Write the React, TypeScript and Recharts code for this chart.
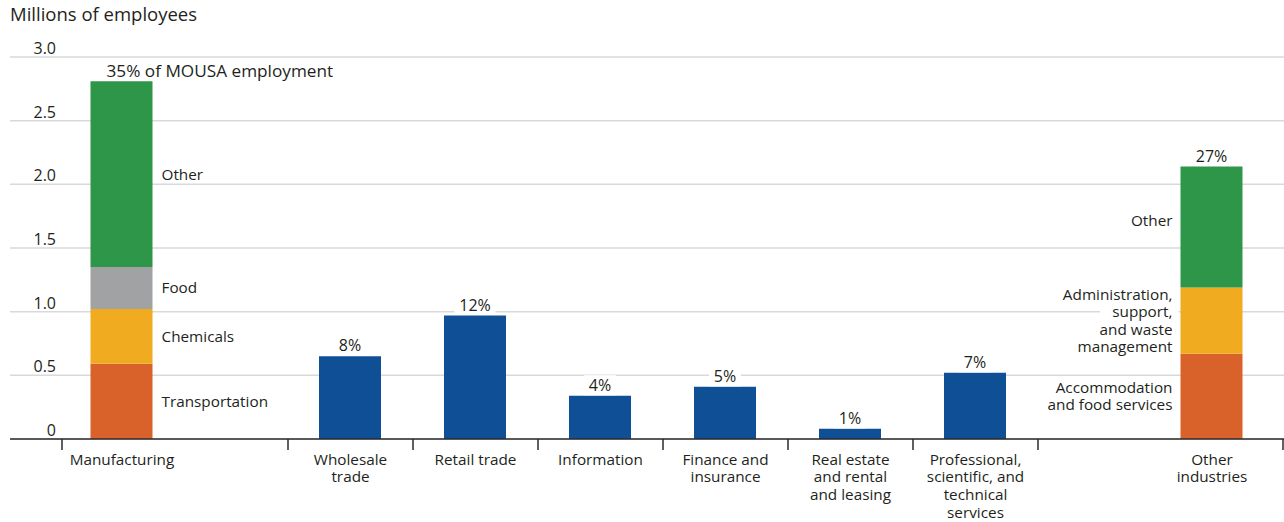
import React from "react";
import { BarChart, Bar, XAxis, YAxis, CartesianGrid, LabelList } from "recharts";

// ---------- data ----------
const categories = [
  "Manufacturing",
  "Wholesale trade",
  "Retail trade",
  "Information",
  "Finance and insurance",
  "Real estate and rental and leasing",
  "Professional, scientific, and technical services",
  "Other industries",
];

const tickLabelLines = [
  ["Manufacturing"],
  ["Wholesale", "trade"],
  ["Retail trade"],
  ["Information"],
  ["Finance and", "insurance"],
  ["Real estate", "and rental", "and leasing"],
  ["Professional,", "scientific, and", "technical", "services"],
  ["Other", "industries"],
];

const shareLabels = ["35% of MOUSA employment", "8%", "12%", "4%", "5%", "1%", "7%", "27%"];

// single (non-split) industries, millions of employees
const singleValues = [0, 0.65, 0.97, 0.34, 0.41, 0.08, 0.52, 0];

// split industries (Manufacturing, Other industries)
const seg1Values = [0.59, 0, 0, 0, 0, 0, 0, 0.67]; // Transportation / Accommodation and food services
const seg2Values = [0.43, 0, 0, 0, 0, 0, 0, 0.52]; // Chemicals / Administration...
const seg3Values = [0.33, 0, 0, 0, 0, 0, 0, 0]; // Food
const seg4Values = [1.46, 0, 0, 0, 0, 0, 0, 0.95]; // Other

const seg1Labels = ["Transportation", "", "", "", "", "", "", "Accommodation\nand food services"];
const seg2Labels = ["Chemicals", "", "", "", "", "", "", "Administration,\nsupport,\nand waste\nmanagement"];
const seg3Labels = ["Food", "", "", "", "", "", "", ""];
const seg4Labels = ["Other", "", "", "", "", "", "", "Other"];

const yTicks = [0, 0.5, 1, 1.5, 2, 2.5, 3];

// ---------- layout (axis units: one middle slot = 1) ----------
const X_DOMAIN: [number, number] = [0, 10.192];
const CENTER_POS = [0.896, 2.724, 3.724, 4.724, 5.724, 6.724, 7.724, 9.616];
const BOUNDARY_POS = [0.416, 2.224, 3.224, 4.224, 5.224, 6.224, 7.224, 8.224, 10.184];

const COLORS = {
  blue: "#0F4F96",
  red: "#D9622B",
  orange: "#F0AB21",
  gray: "#A0A2A3",
  green: "#2E9648",
  text: "#231F20",
  grid: "#D9D9D9",
  axis: "#2B2B2B",
};
const FONT = "'Open Sans', 'Noto Sans', sans-serif";
const FS = 15.3;

const isSplit = (i: number) => singleValues[i] === 0;

const data = categories.map((name, i) => ({
  name,
  pos: CENTER_POS[i],
  single: singleValues[i],
  seg1: seg1Values[i],
  seg2: seg2Values[i],
  seg3: seg3Values[i],
  seg4: seg4Values[i],
  blueShare: isSplit(i) ? "" : shareLabels[i],
  stackShare: isSplit(i) ? shareLabels[i] : "",
  seg1Label: seg1Labels[i],
  seg2Label: seg2Labels[i],
  seg3Label: seg3Labels[i],
  seg4Label: seg4Labels[i],
}));

const estW = (s: string, fs: number) => s.length * fs * 0.56;

const getBox = (props: any) => {
  const vb = props.viewBox && props.viewBox.width !== undefined ? props.viewBox : props;
  return {
    x: Number(vb.x),
    y: Number(vb.y),
    width: Number(vb.width),
    height: Number(vb.height),
  };
};

const ShareLabel = (props: any) => {
  const value = props.value;
  if (!value) return null;
  const { x, y, width } = getBox(props);
  const first = x < 300;
  const fs = first ? 17.2 : 16;
  const ty = y - 10.5;
  const tw = estW(String(value), fs);
  const tx = first ? x + 16 : x + width / 2;
  const rx = first ? tx - 6 : tx - tw / 2 - 7;
  return (
    <g>
      <rect x={rx} y={ty - 10} width={tw + 14} height={20} fill="#fff" />
      <text
        x={tx}
        y={ty}
        dy="0.35em"
        textAnchor={first ? "start" : "middle"}
        fontFamily={FONT}
        fontSize={fs}
        fill={COLORS.text}
      >
        {value}
      </text>
    </g>
  );
};

const SegmentLabel = (props: any) => {
  const value = props.value;
  if (!value) return null;
  const { x, y, width, height } = getBox(props);
  const lines = String(value).split("\n");
  const anchorEnd = x > 640;
  const tx = anchorEnd ? x - 8 : x + width + 9;
  const cy = y + height / 2 - (anchorEnd && lines.length === 1 ? 6 : 0);
  const lh = 17.5;
  const startY = cy - ((lines.length - 1) * lh) / 2;
  return (
    <g>
      {lines.map((ln, k) => {
        const tw = estW(ln, FS);
        const ly = startY + k * lh;
        const rx = anchorEnd ? tx - tw - 4 : tx - 4;
        return (
          <g key={k}>
            <rect x={rx} y={ly - 8} width={tw + 10} height={16} fill="#fff" />
            <text
              x={tx}
              y={ly}
              dy="0.35em"
              textAnchor={anchorEnd ? "end" : "start"}
              fontFamily={FONT}
              fontSize={FS}
              fill={COLORS.text}
            >
              {ln}
            </text>
          </g>
        );
      })}
    </g>
  );
};

const YTick = (props: any) => {
  const { y, payload } = props;
  const v = Number(payload.value);
  return (
    <text x={56} y={y - 3} textAnchor="end" fontFamily={FONT} fontSize={16} fill={COLORS.text}>
      {v === 0 ? "0" : v.toFixed(1)}
    </text>
  );
};

const near = (a: number, b: number) => Math.abs(a - b) < 1e-6;

const XTick = (props: any) => {
  const { x, y, payload } = props;
  const v = Number(payload.value);
  const ci = CENTER_POS.findIndex((p) => near(p, v));
  if (ci >= 0) {
    const lines = tickLabelLines[ci];
    return (
      <g>
        {lines.map((ln, k) => (
          <text
            key={k}
            x={x}
            y={y + 25.5 + k * 17.7}
            textAnchor="middle"
            fontFamily={FONT}
            fontSize={FS}
            fill={COLORS.text}
          >
            {ln}
          </text>
        ))}
      </g>
    );
  }
  return <line x1={x} x2={x} y1={y} y2={y + 11} stroke={COLORS.axis} strokeWidth={1.5} />;
};

const allTicks = [...CENTER_POS, ...BOUNDARY_POS].sort((a, b) => a - b);

export default function App() {
  return (
    <div style={{ position: "relative", width: 1284, height: 522 }}>
      <style>{`body{margin:0;}`}</style>
      <div
        style={{
          position: "absolute",
          left: 10,
          top: 3,
          fontFamily: FONT,
          fontSize: 18.5,
          lineHeight: "22px",
          color: COLORS.text,
          whiteSpace: "nowrap",
        }}
      >
        Millions of employees
      </div>
      <BarChart
        width={1284}
        height={522}
        data={data}
        margin={{ top: 57, right: 0, bottom: 0, left: 0 }}
        barSize={62}
      >
        <CartesianGrid horizontal vertical={false} stroke={COLORS.grid} strokeWidth={1.5} />
        <YAxis
          type="number"
          domain={[0, 3]}
          ticks={yTicks}
          width={10}
          axisLine={false}
          tickLine={false}
          tick={<YTick />}
          interval={0}
        />
        <XAxis
          type="number"
          dataKey="pos"
          domain={X_DOMAIN}
          ticks={allTicks}
          interval={0}
          height={83}
          tickLine={false}
          tickSize={0}
          tickMargin={0}
          axisLine={{ stroke: COLORS.axis, strokeWidth: 1.5 }}
          tick={<XTick />}
        />
        <Bar dataKey="single" stackId="a" fill={COLORS.blue} isAnimationActive={false}>
          <LabelList dataKey="blueShare" content={<ShareLabel />} />
        </Bar>
        <Bar dataKey="seg1" stackId="a" fill={COLORS.red} isAnimationActive={false}>
          <LabelList dataKey="seg1Label" content={<SegmentLabel />} />
        </Bar>
        <Bar dataKey="seg2" stackId="a" fill={COLORS.orange} isAnimationActive={false}>
          <LabelList dataKey="seg2Label" content={<SegmentLabel />} />
        </Bar>
        <Bar dataKey="seg3" stackId="a" fill={COLORS.gray} isAnimationActive={false}>
          <LabelList dataKey="seg3Label" content={<SegmentLabel />} />
        </Bar>
        <Bar dataKey="seg4" stackId="a" fill={COLORS.green} isAnimationActive={false}>
          <LabelList dataKey="seg4Label" content={<SegmentLabel />} />
          <LabelList dataKey="stackShare" content={<ShareLabel />} />
        </Bar>
      </BarChart>
    </div>
  );
}
